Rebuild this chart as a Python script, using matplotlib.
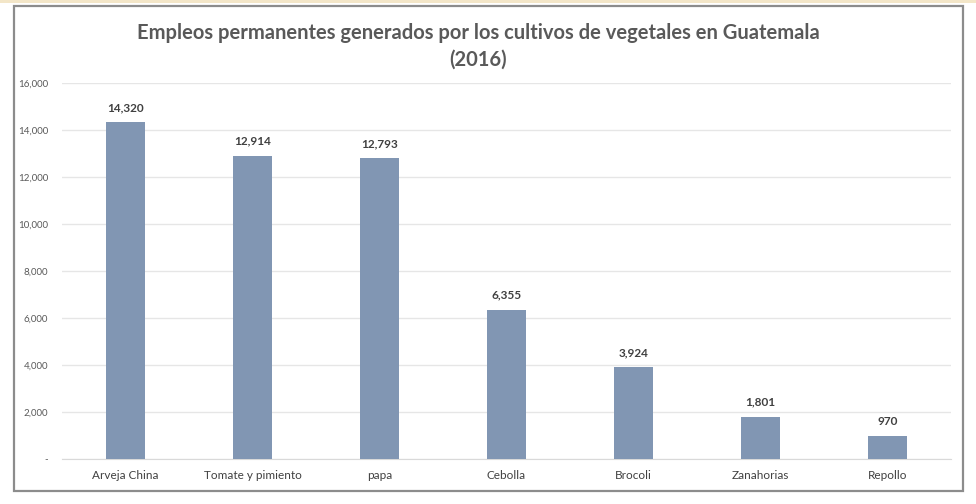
import matplotlib.pyplot as plt
from matplotlib.patches import Rectangle
from matplotlib.ticker import FuncFormatter

cultivos = ['Arveja China', 'Tomate y pimiento', 'papa', 'Cebolla', 'Brocoli', 'Zanahorias', 'Repollo']
empleos = [14320, 12914, 12793, 6355, 3924, 1801, 970]

plt.rcParams['font.family'] = ['Lato', 'DejaVu Sans']

fig = plt.figure(figsize=(9.76, 5.04), dpi=100)

# marco exterior del grafico (estilo Excel)
fig.patches.append(Rectangle((14 / 976, 1 - 491 / 504), (963 - 14) / 976, (491 - 6) / 504,
                             transform=fig.transFigure, fill=False, edgecolor='#8c8c8c', linewidth=1.6))
fig.patches.append(Rectangle((0, 1 - 3 / 504), 1, 3 / 504, transform=fig.transFigure,
                             facecolor='#f3e6c8', edgecolor='none'))

ax = fig.add_axes([62 / 976, 45 / 504, (951 - 62) / 976, (459 - 83) / 504])
x = range(len(cultivos))
bars = ax.bar(x, empleos, width=0.31, color='#8196b3', zorder=3)

for b, v in zip(bars, empleos):
    ax.text(b.get_x() + b.get_width() / 2, v + 380, f'{v:,}', ha='center', va='bottom',
            fontsize=8.5, fontweight='bold', color='#404040')

ax.set_xlim(-0.5, len(cultivos) - 0.5)
ax.set_ylim(0, 16000)
ax.set_yticks(range(0, 16001, 2000))
ax.yaxis.set_major_formatter(FuncFormatter(lambda v, p: '-' if v == 0 else f'{int(v):,}'))
ax.set_xticks(list(x))
ax.set_xticklabels(cultivos, fontsize=8.5, color='#404040')
ax.tick_params(axis='y', labelsize=7, labelcolor='#595959', length=0, pad=10)
ax.tick_params(axis='x', length=0, pad=8)
ax.grid(axis='y', color='#e6e6e6', linewidth=1, zorder=0)
for s in ['top', 'right', 'left']:
    ax.spines[s].set_visible(False)
ax.spines['bottom'].set_color('#d9d9d9')

fig.text(0.49, 1 - 33 / 504, 'Empleos permanentes generados por los cultivos de vegetales en Guatemala',
         ha='center', va='center', fontsize=14.5, fontweight='bold', color='#595959')
fig.text(0.49, 1 - 60 / 504, '(2016)', ha='center', va='center', fontsize=14.5,
         fontweight='bold', color='#595959')

plt.savefig('out.png', dpi=100)
